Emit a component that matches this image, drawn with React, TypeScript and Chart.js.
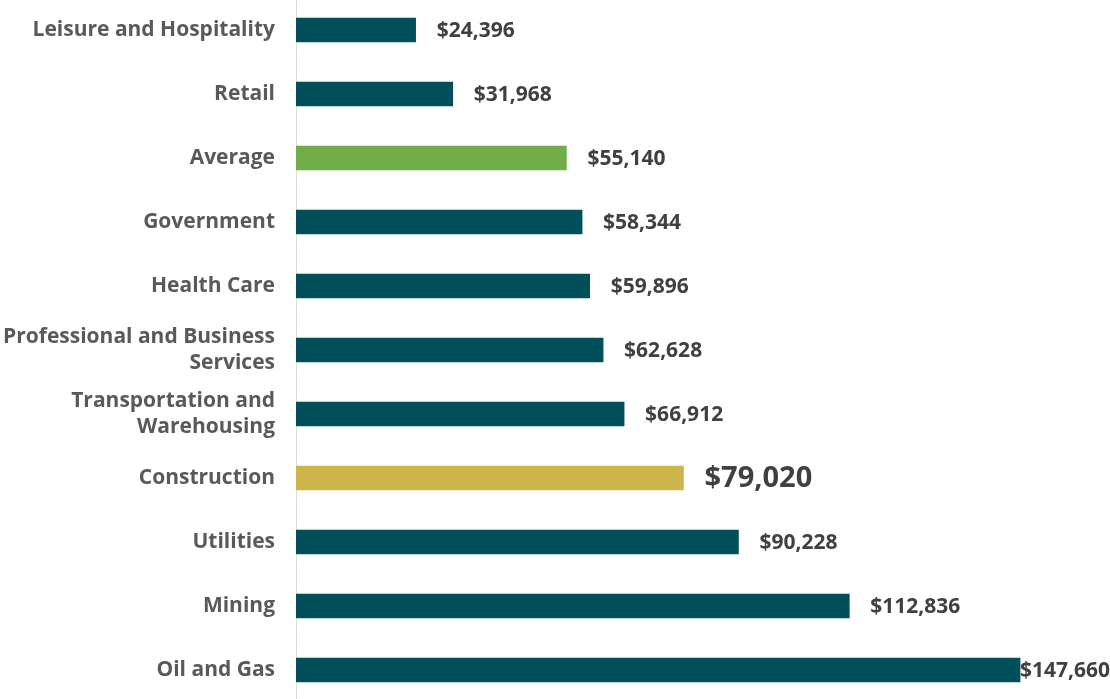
import React, { useEffect, useRef } from "react";
import { Chart, registerables } from "chart.js";

Chart.register(...registerables);

const categories: (string | string[])[] = [
  "Leisure and Hospitality",
  "Retail",
  "Average",
  "Government",
  "Health Care",
  ["Professional and Business", "Services"],
  ["Transportation and", "Warehousing"],
  "Construction",
  "Utilities",
  "Mining",
  "Oil and Gas",
];
const values: number[] = [24396, 31968, 55140, 58344, 59896, 62628, 66912, 79020, 90228, 112836, 147660];
const barColors: string[] = [
  "#024F5A", "#024F5A", "#70AD47", "#024F5A", "#024F5A", "#024F5A",
  "#024F5A", "#CDB54B", "#024F5A", "#024F5A", "#024F5A",
];
const highlightIndex = 7;
const xMax = 166000;

const fmt = (v: number) => "$" + v.toLocaleString("en-US");

const valueLabels = {
  id: "valueLabels",
  afterDatasetsDraw(chart: any) {
    const ctx = chart.ctx;
    const meta = chart.getDatasetMeta(0);
    ctx.save();
    ctx.textBaseline = "middle";
    ctx.textAlign = "left";
    meta.data.forEach((bar: any, i: number) => {
      const big = i === highlightIndex;
      ctx.font = `bold ${big ? 29 : 21}px "Open Sans"`;
      ctx.fillStyle = "#404040";
      const t = fmt(values[i]);
      const w = ctx.measureText(t).width;
      let x = bar.x + 21;
      if (x + w > chart.width) x = chart.width - w;
      ctx.fillText(t, x, bar.y + 1);
    });
    ctx.restore();
  },
};

export default function App() {
  const ref = useRef<HTMLCanvasElement | null>(null);
  useEffect(() => {
    document.body.style.margin = "0";
    if (!ref.current) return;
    const chart = new Chart(ref.current, {
      type: "bar",
      data: {
        labels: categories as any,
        datasets: [
          {
            data: values,
            backgroundColor: barColors,
            barThickness: 24,
            borderWidth: 0,
          },
        ],
      },
      options: {
        indexAxis: "y",
        responsive: false,
        animation: false,
        layout: { padding: 0 },
        plugins: { legend: { display: false }, tooltip: { enabled: false } },
        scales: {
          x: {
            min: 0,
            max: xMax,
            display: false,
            grid: { display: false },
          },
          y: {
            grid: { display: false, drawTicks: false },
            border: { display: true, color: "#D9D9D9", width: 1 },
            ticks: {
              color: "#595959",
              padding: 21,
              font: { family: "Open Sans", weight: "bold", size: 21, lineHeight: 1.2 },
            },
            afterFit(scale: any) {
              scale.width = 296;
              scale.paddingTop = 0;
              scale.paddingBottom = 0;
            },
          },
        },
      },
      plugins: [valueLabels],
    });
    return () => chart.destroy();
  }, []);
  return (
    <div style={{ position: "relative", width: 1110, height: 699, overflow: "hidden" }}>
      <canvas
        ref={ref}
        width={1110}
        height={704}
        style={{ position: "absolute", left: 0, top: -2, width: 1110, height: 704 }}
      />
    </div>
  );
}
